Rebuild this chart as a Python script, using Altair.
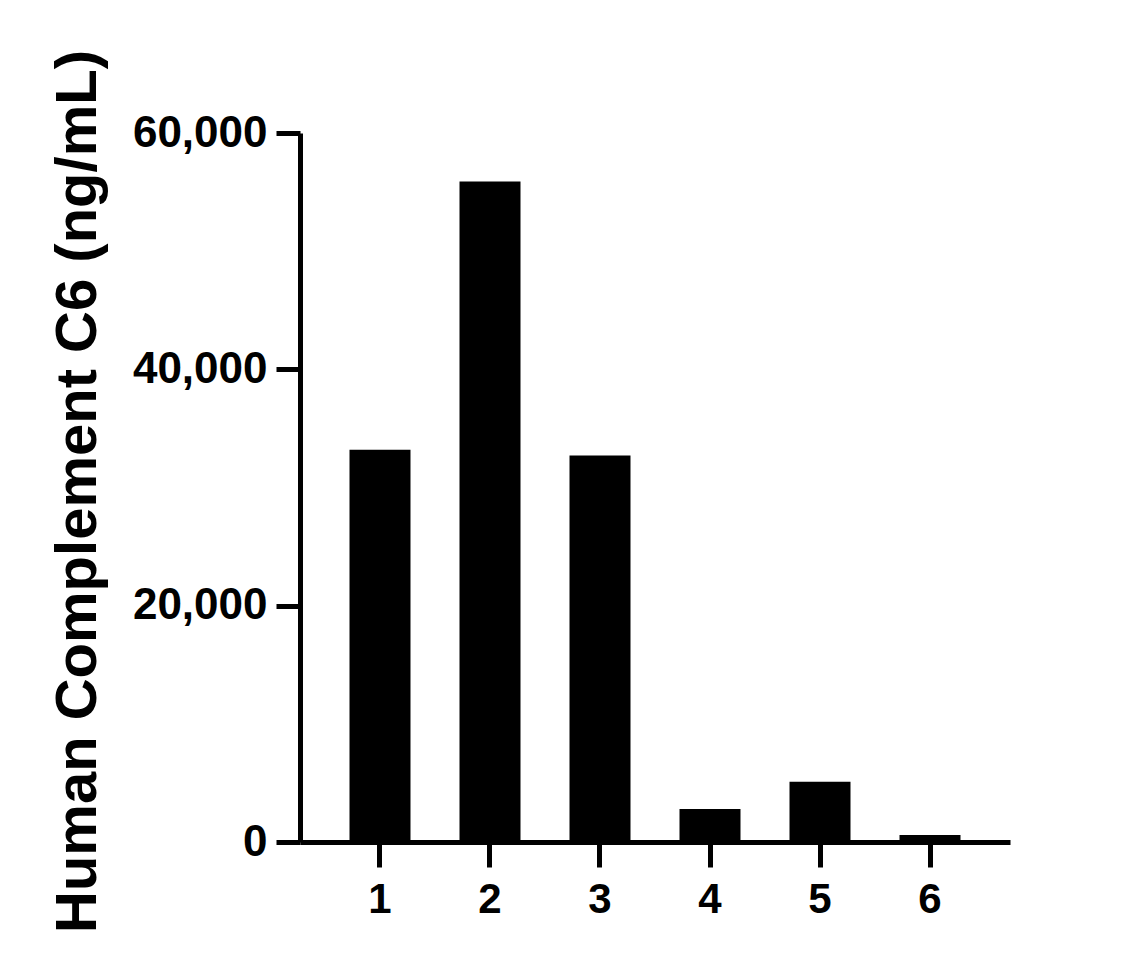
import altair as alt
import pandas as pd

samples = ["1", "2", "3", "4", "5", "6"]
values = [33200, 55900, 32700, 2800, 5100, 600]
y_ticks = [0, 20000, 40000, 60000]
y_title = "Human Complement C6 (ng/mL)"

df = pd.DataFrame({"sample": samples, "value": values})

FONT = "Liberation Sans"

chart = alt.Chart(df).mark_bar(color="black").encode(
    x=alt.X(
        "sample:O",
        sort=samples,
        scale=alt.Scale(paddingInner=0.4455, paddingOuter=0.45),
        axis=alt.Axis(
            title=None,
            labelAngle=0,
            labelFont=FONT,
            labelFontWeight="bold",
            labelFontSize=42,
            labelColor="black",
            labelPadding=12,
            domainColor="black",
            domainWidth=5,
            tickColor="black",
            tickWidth=5,
            tickSize=25,
            zindex=1,
        ),
    ),
    y=alt.Y(
        "value:Q",
        scale=alt.Scale(domain=[0, 60000], nice=False),
        axis=alt.Axis(
            values=y_ticks,
            format=",d",
            grid=False,
            title=y_title,
            titleFont=FONT,
            titleFontWeight="bold",
            titleFontSize=58,
            titleColor="black",
            titleAngle=270,
            titleAlign="center",
            titleBaseline="alphabetic",
            titleX=-205,
            titleY=358,
            labelFont=FONT,
            labelFontWeight="bold",
            labelFontSize=44,
            labelColor="black",
            labelPadding=9,
            domainColor="black",
            domainWidth=5,
            tickColor="black",
            tickWidth=5,
            tickSize=24,
            zindex=1,
        ),
    ),
).properties(
    width=710,
    height=709,
    autosize=alt.AutoSizeParams(type="none"),
    padding={"left": 292, "top": 125, "right": 40, "bottom": 130},
).configure_view(stroke=None)

chart.save("out.html", embed_options={"renderer": "svg", "actions": False})
